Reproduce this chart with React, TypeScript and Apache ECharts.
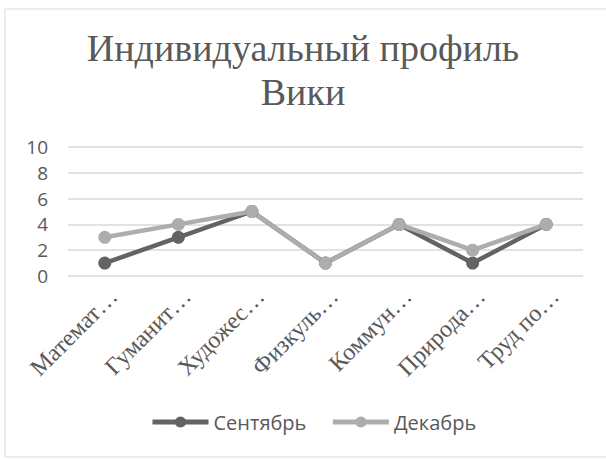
import React, { useEffect, useRef } from "react";
import * as echarts from "echarts";

const categories = ["Математ…", "Гуманит…", "Художес…", "Физкуль…", "Коммун…", "Природа…", "Труд по…"];
const september = [1, 3, 5, 1, 4, 1, 4];
const december = [3, 4, 5, 1, 4, 2, 4];
const seriesNames = ["Сентябрь", "Декабрь"];
const titleText = "Индивидуальный профиль\nВики";

export default function App() {
  const ref = useRef<HTMLDivElement>(null);
  useEffect(() => {
    document.body.style.margin = "0";
    const chart = echarts.init(ref.current!, null, { renderer: "svg" });
    const sans = "'Open Sans', 'Noto Sans', sans-serif";
    const serif = "'Liberation Serif', 'DejaVu Serif', serif";
    chart.setOption({
      animation: false,
      backgroundColor: "#ffffff",
      graphic: [
        {
          type: "rect",
          shape: { x: 5, y: 9, width: 620, height: 448 },
          style: { fill: "none", stroke: "#D9D9D9", lineWidth: 1 },
          silent: true,
        },
      ],
      title: {
        text: titleText,
        left: "center",
        top: 21,
        padding: [5, 5, 5, 19],
        textStyle: {
          fontFamily: serif,
          fontWeight: "normal",
          fontSize: 38,
          lineHeight: 44,
          color: "#595959",
        },
      },
      legend: {
        data: seriesNames,
        bottom: 22,
        left: 145,
        itemWidth: 56,
        itemHeight: 14,
        itemGap: 24,
        lineStyle: { width: 5 },
        textStyle: { fontFamily: sans, fontSize: 20, color: "#595959" },
      },
      grid: { left: 68, right: 23, top: 147, bottom: 183 },
      xAxis: {
        type: "category",
        data: categories,
        boundaryGap: true,
        axisLine: { show: false },
        axisTick: { show: false },
        axisLabel: {
          rotate: 45,
          interval: 0,
          margin: 8,
          align: "right",
          verticalAlign: "top",
          fontFamily: serif,
          fontSize: 24,
          color: "#595959",
        },
      },
      yAxis: {
        type: "value",
        min: 0,
        max: 10,
        interval: 2,
        axisLine: { show: false },
        axisTick: { show: false },
        splitLine: { lineStyle: { color: "#D9D9D9", width: 1.5 } },
        axisLabel: { fontFamily: sans, fontSize: 19, color: "#595959", margin: 20 },
      },
      series: [
        {
          name: seriesNames[0],
          type: "line",
          data: september,
          symbol: "circle",
          symbolSize: 13,
          itemStyle: { color: "#636363" },
          lineStyle: { color: "#636363", width: 4.5 },
        },
        {
          name: seriesNames[1],
          type: "line",
          data: december,
          symbol: "circle",
          symbolSize: 13,
          itemStyle: { color: "#ADADAD" },
          lineStyle: { color: "#ADADAD", width: 4.5 },
        },
      ],
    });
    return () => chart.dispose();
  }, []);
  return <div ref={ref} style={{ position: "fixed", left: 0, top: 0, width: 606, height: 459 }} />;
}
